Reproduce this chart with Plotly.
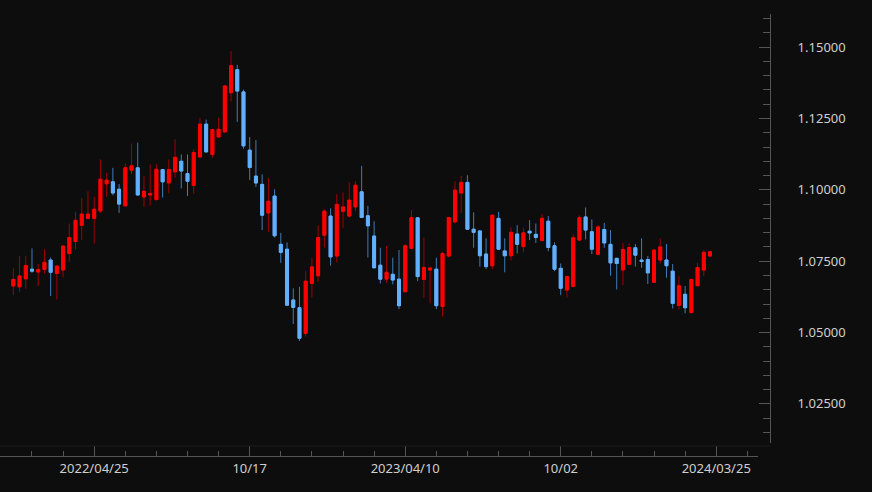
import plotly.graph_objects as go
import pandas as pd

# Weekly candles, first week 2022-01-24
start_date = "2022-01-24"
n_weeks = 113
dates = pd.date_range(start_date, periods=n_weeks, freq="7D")

opens = [1.0663, 1.0660, 1.0688, 1.0722, 1.0712, 1.0721, 1.0754, 1.0707, 1.0719, 1.0777,
         1.0819, 1.0876, 1.0900, 1.0900, 1.0926, 1.1021, 1.1028, 1.1002, 1.0944, 1.1069,
         1.1077, 1.0975, 1.0982, 1.0966, 1.1071, 1.1024, 1.1063, 1.1100, 1.1057, 1.1016,
         1.1115, 1.1230, 1.1124, 1.1185, 1.1203, 1.1340, 1.1421, 1.1343, 1.1139, 1.1048,
         1.1019, 1.0919, 1.0978, 1.0809, 1.0792, 1.0614, 1.0587, 1.0497, 1.0672, 1.0699,
         1.0841, 1.0908, 1.0768, 1.0925, 1.0908, 1.0940, 1.0993, 1.0909, 1.0838, 1.0736,
         1.0687, 1.0704, 1.0687, 1.0643, 1.0795, 1.0902, 1.0686, 1.0719, 1.0722, 1.0591,
         1.0768, 1.0888, 1.0989, 1.1026, 1.0862, 1.0856, 1.0775, 1.0734, 1.0900, 1.0786,
         1.0769, 1.0845, 1.0801, 1.0855, 1.0844, 1.0822, 1.0890, 1.0804, 1.0725, 1.0649,
         1.0661, 1.0824, 1.0905, 1.0853, 1.0774, 1.0861, 1.0809, 1.0760, 1.0719, 1.0739,
         1.0797, 1.0754, 1.0756, 1.0676, 1.0754, 1.0754, 1.0715, 1.0595, 1.0634, 1.0570,
         1.0664, 1.0719, 1.0768]
highs = [1.0725, 1.0768, 1.0768, 1.0795, 1.0740, 1.0792, 1.0763, 1.0734, 1.0804, 1.0882,
         1.0922, 1.0972, 1.0995, 1.0975, 1.1107, 1.1059, 1.1077, 1.1020, 1.1092, 1.1162,
         1.1165, 1.1048, 1.1089, 1.1090, 1.1072, 1.1106, 1.1177, 1.1124, 1.1124, 1.1143,
         1.1252, 1.1246, 1.1212, 1.1253, 1.1366, 1.1486, 1.1438, 1.1351, 1.1185, 1.1174,
         1.1054, 1.1042, 1.1002, 1.0849, 1.0816, 1.0655, 1.0660, 1.0715, 1.0762, 1.0876,
         1.0932, 1.0935, 1.0984, 1.0991, 1.1026, 1.1030, 1.1084, 1.0944, 1.0890, 1.0797,
         1.0803, 1.0762, 1.0789, 1.0810, 1.0929, 1.0903, 1.0832, 1.0728, 1.0762, 1.0783,
         1.0905, 1.1030, 1.1049, 1.1051, 1.0921, 1.0857, 1.0830, 1.0914, 1.0923, 1.0830,
         1.0868, 1.0876, 1.0868, 1.0894, 1.0882, 1.0915, 1.0908, 1.0816, 1.0742, 1.0697,
         1.0844, 1.0911, 1.0938, 1.0896, 1.0876, 1.0884, 1.0859, 1.0761, 1.0814, 1.0814,
         1.0810, 1.0830, 1.0768, 1.0790, 1.0830, 1.0810, 1.0740, 1.0699, 1.0663, 1.0687,
         1.0744, 1.0789, 1.0787]
lows = [1.0631, 1.0643, 1.0653, 1.0709, 1.0663, 1.0707, 1.0628, 1.0616, 1.0693, 1.0748,
        1.0792, 1.0824, 1.0898, 1.0812, 1.0919, 1.0975, 1.0981, 1.0919, 1.0942, 1.1055,
        1.0980, 1.0940, 1.0945, 1.0961, 1.0973, 1.0989, 1.1043, 1.1005, 1.0978, 1.0987,
        1.1113, 1.1131, 1.1113, 1.1183, 1.1199, 1.1310, 1.1238, 1.1144, 1.1034, 1.1010,
        1.0859, 1.0853, 1.0833, 1.0744, 1.0594, 1.0530, 1.0470, 1.0486, 1.0623, 1.0678,
        1.0798, 1.0734, 1.0746, 1.0867, 1.0903, 1.0926, 1.0902, 1.0763, 1.0725, 1.0672,
        1.0674, 1.0669, 1.0582, 1.0641, 1.0792, 1.0680, 1.0622, 1.0602, 1.0582, 1.0556,
        1.0763, 1.0882, 1.0919, 1.0860, 1.0797, 1.0731, 1.0722, 1.0722, 1.0791, 1.0711,
        1.0752, 1.0777, 1.0781, 1.0824, 1.0814, 1.0820, 1.0785, 1.0715, 1.0631, 1.0622,
        1.0659, 1.0821, 1.0826, 1.0775, 1.0771, 1.0797, 1.0699, 1.0651, 1.0666, 1.0736,
        1.0731, 1.0727, 1.0670, 1.0675, 1.0742, 1.0692, 1.0584, 1.0581, 1.0567, 1.0567,
        1.0663, 1.0698, 1.0765]
closes = [1.0686, 1.0698, 1.0735, 1.0715, 1.0721, 1.0746, 1.0711, 1.0733, 1.0803, 1.0833,
          1.0893, 1.0915, 1.0915, 1.0932, 1.1037, 1.1034, 1.0989, 1.0950, 1.1077, 1.1084,
          1.0982, 1.0995, 1.0987, 1.1072, 1.1028, 1.1071, 1.1114, 1.1066, 1.1030, 1.1131,
          1.1230, 1.1133, 1.1211, 1.1212, 1.1364, 1.1435, 1.1346, 1.1154, 1.1078, 1.1024,
          1.0911, 1.0960, 1.0839, 1.0781, 1.0596, 1.0588, 1.0480, 1.0680, 1.0730, 1.0833,
          1.0925, 1.0765, 1.0949, 1.0940, 1.0964, 1.1016, 1.0903, 1.0874, 1.0727, 1.0687,
          1.0711, 1.0684, 1.0594, 1.0804, 1.0902, 1.0696, 1.0728, 1.0726, 1.0594, 1.0777,
          1.0903, 1.0999, 1.1026, 1.0862, 1.0851, 1.0769, 1.0731, 1.0911, 1.0792, 1.0769,
          1.0851, 1.0809, 1.0849, 1.0849, 1.0833, 1.0900, 1.0798, 1.0722, 1.0655, 1.0696,
          1.0832, 1.0902, 1.0859, 1.0792, 1.0870, 1.0814, 1.0744, 1.0742, 1.0791, 1.0798,
          1.0771, 1.0749, 1.0709, 1.0789, 1.0800, 1.0734, 1.0602, 1.0664, 1.0587, 1.0686,
          1.0728, 1.0781, 1.0783]

tick_dates = ["2022-04-25", "2022-10-17", "2023-04-10", "2023-10-02", "2024-03-25"]
tick_labels = ["2022/04/25", "10/17", "2023/04/10", "10/02", "2024/03/25"]

UP_BODY, UP_WICK = "#ff0000", "#a30000"
DN_BODY, DN_WICK = "#62b0ff", "#3f7cb8"
AXIS_COL = "#555555"
TEXT_COL = "#cfcfcf"
BG = "#0d0d0d"

body_hi = [max(o, c) for o, c in zip(opens, closes)]
body_lo = [min(o, c) for o, c in zip(opens, closes)]

fig = go.Figure()
# wicks
fig.add_trace(go.Candlestick(
    x=dates, open=opens, high=highs, low=lows, close=closes,
    increasing=dict(line=dict(color=UP_WICK, width=1), fillcolor=UP_WICK),
    decreasing=dict(line=dict(color=DN_WICK, width=1), fillcolor=DN_WICK),
    showlegend=False, hoverinfo="skip"))
# bodies
fig.add_trace(go.Candlestick(
    x=dates, open=opens, high=body_hi, low=body_lo, close=closes,
    increasing=dict(line=dict(color=UP_BODY, width=1), fillcolor=UP_BODY),
    decreasing=dict(line=dict(color=DN_BODY, width=1), fillcolor=DN_BODY),
    showlegend=False))

W, H = 872, 492
m_l, m_r, m_t, m_b = 0, 102, 14, 36
plot_w = W - m_l - m_r
plot_h = H - m_t - m_b

x_start = dates[0] - pd.Timedelta(days=15)
x_end = dates[0] + pd.Timedelta(days=838)
minor_vals = pd.date_range(dates[0] - pd.Timedelta(weeks=2), periods=25, freq="35D")

fig.update_layout(
    width=W, height=H,
    margin=dict(l=m_l, r=m_r, t=m_t, b=m_b),
    paper_bgcolor=BG, plot_bgcolor=BG,
    font=dict(family="Noto Sans", size=13, color=TEXT_COL),
    boxgap=0.32,
    xaxis=dict(
        type="date", range=[x_start, x_end], domain=[0, 758 / plot_w],
        anchor="free", position=0,
        rangeslider=dict(visible=False),
        showgrid=False, zeroline=False,
        showline=True, linecolor=AXIS_COL, linewidth=1,
        ticks="inside", ticklen=10, tickcolor=AXIS_COL,
        tickmode="array", tickvals=tick_dates, ticktext=tick_labels,
        minor=dict(tickmode="array", tickvals=list(minor_vals), ticks="inside",
                   ticklen=5, tickcolor=AXIS_COL, showgrid=False),
    ),
    yaxis=dict(
        range=[1.0113, 1.1616], domain=[(456 - 443) / plot_h, 1],
        anchor="free", position=1, side="right",
        showgrid=False, zeroline=False,
        showline=True, linecolor=AXIS_COL, linewidth=1,
        ticks="inside", ticklen=11, tickcolor=AXIS_COL,
        tick0=1.0, dtick=0.025, tickformat=".5f",
        ticklabelstandoff=24,
        minor=dict(dtick=0.005, tick0=1.0, ticks="inside", ticklen=7,
                   tickcolor=AXIS_COL, showgrid=False),
    ),
)

fig.add_shape(type="line", xref="paper", yref="paper",
              x0=0, x1=1, y0=(456 - 446) / plot_h, y1=(456 - 446) / plot_h,
              line=dict(color="#1c1c1c", width=1))

fig.write_html("out.html",
               config={"displayModeBar": False},
               post_script="document.body.style.margin='0';"
                           "document.body.style.background='" + BG + "';")
